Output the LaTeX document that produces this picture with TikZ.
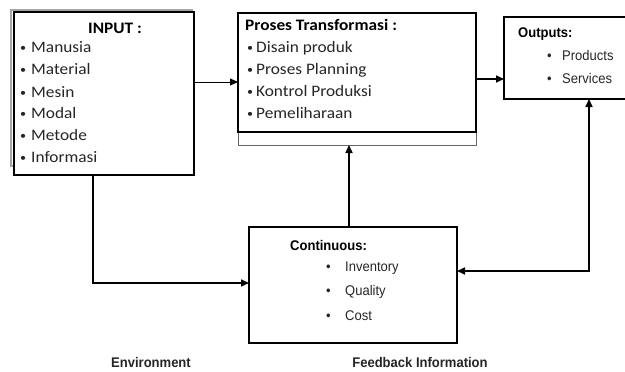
\documentclass[tikz,border=0pt]{standalone}
\usepackage{fontspec}
\setmainfont{Liberation Sans}[FakeStretch=0.93]
\newfontfamily\calibfont[FakeStretch=1.08]{Carlito}
\usetikzlibrary{arrows.meta}
\definecolor{txt}{HTML}{262626}
\newcommand{\smallbul}{\raisebox{0.2ex}{\scalebox{0.7}{•}}}
\begin{document}
\begin{tikzpicture}[x=1pt,y=-1pt,
  box/.style={draw=black, line width=1.1pt, fill=white, inner sep=0pt, outer sep=0pt},
  ctext/.style={font=\calibfont\fontsize{16}{19}\selectfont, text=txt, inner sep=0pt, anchor=mid west},
  ctitle/.style={font=\calibfont\bfseries\fontsize{16}{19}\selectfont, text=black, inner sep=0pt},
  atext/.style={font=\fontsize{14}{16}\selectfont, text=txt, inner sep=0pt, anchor=mid west},
  atitle/.style={font=\bfseries\fontsize{14}{16}\selectfont, text=black, inner sep=0pt},
  conn/.style={line width=1.6pt, -{Triangle[length=8pt,width=7pt]}},
  thinconn/.style={line width=0.8pt, -{Triangle[length=8pt,width=7pt]}},
  tip/.tip={Triangle[length=8pt,width=7pt]}
]
\useasboundingbox (0,0) rectangle (625,372);
\clip (0,0) rectangle (625,372);
\fill[white] (0,0) rectangle (625,372);

% INPUT box with grey shadow frame
\draw[gray!70, line width=1.6pt] (11,10) rectangle (192,166);
\node[box, minimum width=180pt, minimum height=163pt] (input) at (104,93.5) {};
\node[ctitle] (inputtitle) at (115,28) {INPUT :};
\node[ctext] (i1) at (20,50) {\makebox[11pt][l]{\smallbul}Manusia};
\node[ctext] (i2) at (20,72) {\makebox[11pt][l]{\smallbul}Material};
\node[ctext] (i3) at (20,95) {\makebox[11pt][l]{\smallbul}Mesin};
\node[ctext] (i4) at (20,116) {\makebox[11pt][l]{\smallbul}Modal};
\node[ctext] (i5) at (20,138) {\makebox[11pt][l]{\smallbul}Metode};
\node[ctext] (i6) at (20,160) {\makebox[11pt][l]{\smallbul}Informasi};

% Proses Transformasi box
\node[box, draw=black!60, line width=0.9pt, minimum width=238pt, minimum height=132pt] (proses) at (357,79) {};
\node[box, line width=1.2pt, minimum width=238pt, minimum height=119pt] (prosesmain) at (357,72.5) {};
\draw[line width=2.2pt] (prosesmain.north west) -- (prosesmain.north east);
\draw[line width=1.8pt] (prosesmain.north west) -- (prosesmain.south west);
\node[ctitle, anchor=mid west] (prosestitle) at (245,28) {Proses Transformasi :};
\node[ctext] (p1) at (247,50) {\makebox[9pt][l]{\smallbul}Disain produk};
\node[ctext] (p2) at (247,72) {\makebox[9pt][l]{\smallbul}Proses Planning};
\node[ctext] (p3) at (247,94) {\makebox[9pt][l]{\smallbul}Kontrol Produksi};
\node[ctext] (p4) at (247,116) {\makebox[9pt][l]{\smallbul}Pemeliharaan};

% Outputs box (runs off the right edge)
\node[box, minimum width=136pt, minimum height=82pt] (outputs) at (572,58) {};
\node[atitle, anchor=mid west] (outtitle) at (518,35) {Outputs:};
\node[atext] (o1) at (547,58) {\makebox[15pt][l]{•}Products};
\node[atext] (o2) at (547,81) {\makebox[15pt][l]{•}Services};

% Continuous box
\node[box, minimum width=208pt, minimum height=116pt] (conti) at (353,285) {};
\node[atitle, anchor=mid west] (contitle) at (290,248) {Continuous:};
\node[atext] (c1) at (326,269) {\makebox[19pt][l]{•}Inventory};
\node[atext] (c2) at (326,293) {\makebox[19pt][l]{•}Quality};
\node[atext] (c3) at (326,318) {\makebox[19pt][l]{•}Cost};

% bottom labels
\node[atitle, text=txt] (env) at (151,362) {Environment};
\node[atitle, text=txt] (feed) at (420,362) {Feedback Information};

% connectors
\draw[thinconn] (input.east |- 0,82) -- (proses.west |- 0,82);
\draw[conn] (proses.east |- 0,79) -- (outputs.west |- 0,79);
\draw[conn] (conti.north -| 349,0) -- (proses.south -| 349,0);
\draw[conn] (input.south -| 93,0) |- (conti.west |- 0,283);
\draw[line width=1.6pt, tip-tip] (conti.east |- 0,271) -| (outputs.south -| 589,0);
\end{tikzpicture}
\end{document}
